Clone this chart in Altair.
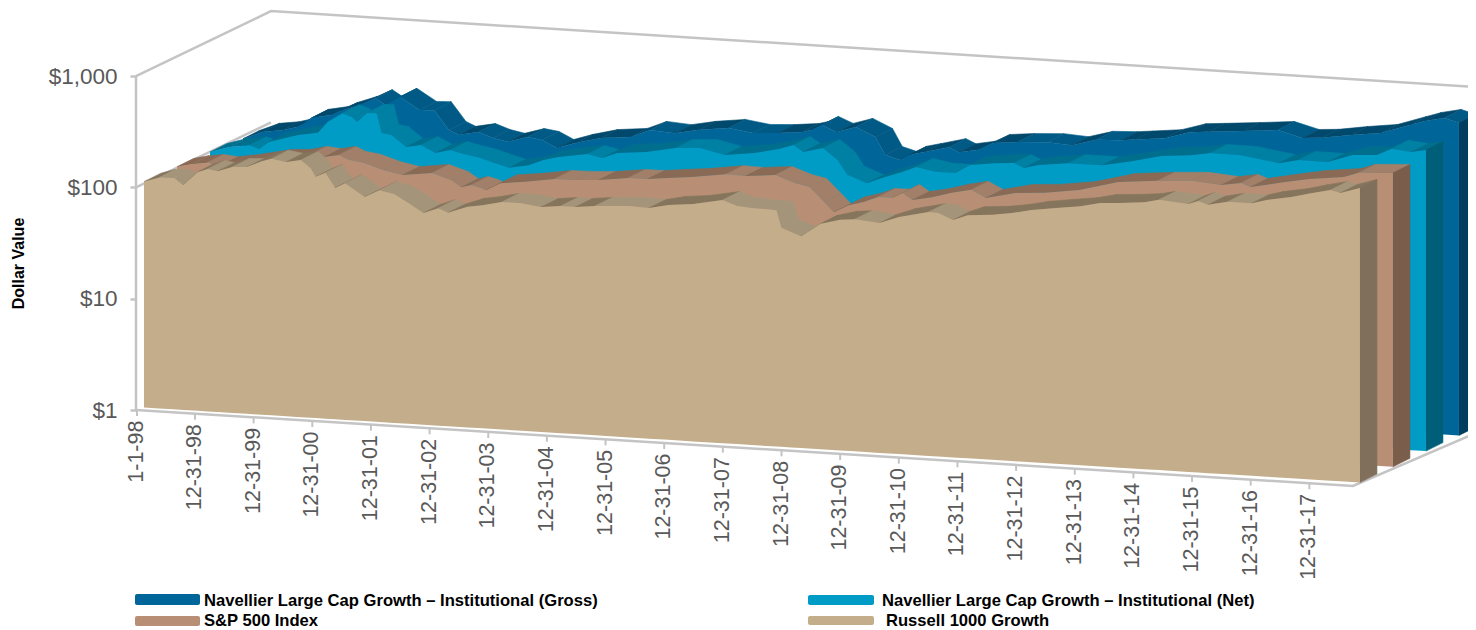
import math
import altair as alt
import pandas as pd

# ---- data (month since 1-1-98, growth of $100) ----
russell_m = [0,3,6,8,11,13,15,18,21,24,26,29,32,34,35,37,39,41,45,48,51,54,57,60,62,66,69,73,77,81,85,88,92,99,103,107,112,118,121,124,129,130,132,134,138,142,145,150,154,160,162,165,168,173,177,181,186,191,195,199,204,207,213,215,217,221,226,229,234,238,242,244,248]
russell_v = [107,118,120,105,140,151,146,162,165,190,202,193,204,175,147,162,120,134,103,121,114,96,80,90,83,96,101,111,111,105,110,110,115,120,118,129,136,153,138,135,133,93,86,80,106,118,122,116,135,155,154,136,153,159,169,185,199,213,233,239,251,268,255,275,258,281,282,307,336,374,409,390,443]
sp_m = [0,3,6,9,13,17,20,24,27,30,33,35,38,42,46,52,56,58,60,62,63,66,71,77,81,86,92,96,100,105,112,116,122,126,129,132,134,137,140,143,146,148,150,154,158,162,165,171,177,184,192,200,207,213,217,219,226,231,238,241,248]
sp_v = [105,113,118,115,123,134,143,147,159,155,165,151,145,128,118,128,113,99,105,100,96,113,120,132,133,137,148,149,156,164,182,180,190,165,155,116,95,112,122,138,138,154,135,147,165,180,155,178,186,206,255,275,287,273,293,273,315,347,377,419,437]
net_m = [0,4,8,10,12,16,18,22,24,27,29,30,32,34,35,37,40,43,46,49,51,55,58,61,65,68,71,77,80,83,89,95,100,105,111,116,119,121,125,128,130,134,137,141,144,148,152,155,160,164,166,169,175,182,188,194,200,204,210,213,218,222,228,233,238,241,245,248]
net_v = [103,117,125,117,137,155,164,176,223,272,254,232,282,285,190,185,147,156,135,146,139,129,118,109,118,134,145,160,150,170,180,203,209,187,202,227,251,220,245,195,145,125,142,164,186,173,173,208,223,229,209,227,245,245,277,319,338,362,361,345,320,351,349,416,431,498,477,507]
gross_m = [0,4,8,11,12,14,18,20,24,27,29,32,36,39,42,44,48,51,54,58,61,64,68,73,79,83,88,93,99,104,109,114,116,118,121,125,129,131,134,136,139,144,146,150,153,158,164,169,174,179,182,188,193,197,204,211,216,220,226,232,238,241,245,248]
gross_v = [98,116,123,134,141,165,179,198,230,269,237,285,223,226,153,140,152,137,129,146,140,121,138,157,167,198,191,211,228,212,218,230,243,273,241,274,228,159,146,165,178,203,185,200,234,246,255,247,285,292,301,322,376,388,412,440,385,396,436,472,579,640,699,643]

series = ["Navellier Large Cap Growth \u2013 Institutional (Gross)",
          "Navellier Large Cap Growth \u2013 Institutional (Net)",
          "S&P 500 Index", "Russell 1000 Growth"]
depth_rank = [3, 2, 1, 0]
months = [gross_m, net_m, sp_m, russell_m]
values = [gross_v, net_v, sp_v, russell_v]
front_col = ["#006699", "#009CC5", "#B88F74", "#C3AD8B"]
side_col = ["#003D5E", "#005F78", "#7A5E4B", "#7F6F5B"]
top_light = ["#005A85", "#0080A2", "#A17F68", "#A4957A"]
top_dark = ["#00486C", "#006F8E", "#8A6A55", "#85755D"]
tick_labels = ["1-1-98"] + ["12-31-%02d" % (y % 100) for y in range(1998, 2018)]
y_ticks = [0, 1, 2, 3]

# ---- projection of the 3-D box onto the page ----
PX_PER_MONTH = 4.903
FRONT_X = 144.0
PLOT_X = 136.0
PLOT_Y = 8.0
W, H = 1332, 622
DEC = 111.3
WALL_BASE = 410.0
FRONT_BASE = 407.5
RUN = 0.0617
PITCH = (33.0, -15.7)
THICK = (17.0, -8.5)
FONT = "Liberation Sans"

def xu(px):
    return (px - FRONT_X) / PX_PER_MONTH

def yu(py):
    return (WALL_BASE - py) / DEC

def point(month, dollars, rank, depth=0.0):
    """month, value and series -> scale units; depth 0 = front, 1 = back of the slab"""
    px = FRONT_X + month * PX_PER_MONTH
    base = FRONT_BASE + RUN * (px - FRONT_X)
    px += rank * PITCH[0] + depth * THICK[0]
    base += rank * PITCH[1] + depth * THICK[1]
    py = base - DEC * (math.log10(dollars) if dollars else 0.0)
    return xu(px), yu(py)

XS = alt.Scale(domain=[xu(PLOT_X), xu(PLOT_X + W)], nice=False, zero=False)
YS = alt.Scale(domain=[yu(PLOT_Y + H), yu(PLOT_Y)], nice=False, zero=False)
X = alt.X("x:Q", scale=XS, axis=None)
Y_AXIS_DEF = alt.Axis(values=y_ticks, labelExpr="'$' + format(pow(10, datum.value), ',')",
                      domain=False, grid=False, tickColor="#C4C4C4", tickWidth=2.5, tickSize=6,
                      labelFont=FONT, labelFontSize=22.5, labelColor="#595959", labelPadding=13,
                      title="Dollar Value", titleFont=FONT, titleFontSize=16, titleFontWeight="bold",
                      titleColor="#000000", titleAngle=270, titleX=18 - PLOT_X, titleY=263 - PLOT_Y,
                      titleAlign="center", titleBaseline="middle")
Y = alt.Y("y:Q", scale=YS, axis=Y_AXIS_DEF)

# ---- frame ----
frame = []
def seg(name, *pts):
    for i, (px, d) in enumerate(pts):
        frame.append({"id": name, "o": i, "x": xu(px), "y": d})
DX, DY = 135.0, -65.0
FLOOR_R = 1353.0
seg("wall", (PLOT_X, 0), (PLOT_X, 3))
seg("top", (PLOT_X, 3), (PLOT_X + DX, 3 - DY / DEC), (1476, yu(87)))
seg("hundred", (PLOT_X, 2), (PLOT_X + DX, 2 - DY / DEC))
seg("floor", (PLOT_X, 0), (FLOOR_R, yu(486)), (1476, yu(433)))
walls = alt.Chart(pd.DataFrame(frame)).mark_line(color="#C4C4C4", strokeWidth=2.5).encode(
    x=X, y=Y, detail="id:N", order="o:Q")

# ---- x ticks and labels ----
rows = []
for i, lab in enumerate(tick_labels):
    px = 137.0 + (0 if i == 0 else 58.0 + 58.65 * (i - 1))
    floor = WALL_BASE + (px - PLOT_X) * 76.0 / 1217.0
    rows.append({"label": lab, "x": xu(px), "y": yu(floor), "y2": yu(floor + 6), "yt": yu(floor + 10.5)})
ticks_df = pd.DataFrame(rows)
ticks = alt.Chart(ticks_df).mark_rule(color="#C4C4C4", strokeWidth=2).encode(x=X, y=Y, y2="y2:Q")
tick_text = alt.Chart(ticks_df).mark_text(angle=270, align="right", baseline="middle", font=FONT,
                                          fontSize=21.5, color="#595959").encode(x=X, y=alt.Y("yt:Q", scale=YS, axis=Y_AXIS_DEF), text="label:N")

# ---- slabs, back to front ----
layers = [walls]
for s in range(4):
    rank = depth_rank[s]
    ms, vs = months[s], values[s]
    polys = []
    for i in range(len(ms) - 1):
        a0 = point(ms[i], vs[i], rank)
        b0 = point(ms[i + 1], vs[i + 1], rank)
        a1 = point(ms[i], vs[i], rank, 1)
        b1 = point(ms[i + 1], vs[i + 1], rank, 1)
        rising = b0[1] > a0[1]
        col = top_dark[s] if rising else top_light[s]
        for o, p in enumerate([a0, b0, b1, a1, a0]):
            polys.append({"id": "f%03d" % i, "o": o, "x": p[0], "y": p[1], "c": col})
    e0 = point(ms[-1], vs[-1], rank)
    e1 = point(ms[-1], vs[-1], rank, 1)
    g0 = point(ms[-1], 0, rank)
    g1 = point(ms[-1], 0, rank, 1)
    for o, p in enumerate([e0, e1, g1, g0, e0]):
        polys.append({"id": "side", "o": o, "x": p[0], "y": p[1], "c": side_col[s]})
    layers.append(alt.Chart(pd.DataFrame(polys)).mark_line(strokeWidth=0.6).encode(
        x=X, y=Y, detail="id:N", order="o:Q",
        fill=alt.Fill("c:N", scale=None, legend=None),
        stroke=alt.Stroke("c:N", scale=None, legend=None)))
    face = []
    for m, v in zip(ms, vs):
        xp, yp = point(m, v, rank)
        _, yb = point(m, 0, rank)
        face.append({"x": xp, "y": yp, "y2": yb})
    layers.append(alt.Chart(pd.DataFrame(face)).mark_area(color=front_col[s]).encode(x=X, y=Y, y2="y2:Q"))

layers += [ticks, tick_text]

# ---- legend ----
leg_key = [(135, 200, 594, 605, 204, 600.5), (808, 874, 595, 605, 882, 600.5),
           (135, 200, 616, 626, 204, 621), (808, 874, 616, 625, 886, 621)]
for s, (x0, x1, y0, y1, tx, ty) in enumerate(leg_key):
    df = pd.DataFrame({"name": [series[s]]})
    layers.append(alt.Chart(df).mark_rect(color=front_col[s], cornerRadius=2).encode(
        x=alt.value(x0 - PLOT_X), x2=alt.value(x1 - PLOT_X), y=alt.value(y0 - PLOT_Y), y2=alt.value(y1 - PLOT_Y)))
    layers.append(alt.Chart(df).mark_text(align="left", baseline="middle", font=FONT, fontSize=16.6,
                                          fontWeight="bold", color="#000000").encode(
        x=alt.value(tx - PLOT_X), y=alt.value(ty - PLOT_Y), text="name:N"))

chart = alt.layer(*layers).properties(
    width=W, height=H, padding={"left": PLOT_X - 8, "top": 0, "right": 0, "bottom": 0},
    autosize=alt.AutoSizeParams(type="none")
).configure_view(stroke=None)
chart.save("out.html", embed_options={"renderer": "svg", "actions": False})
